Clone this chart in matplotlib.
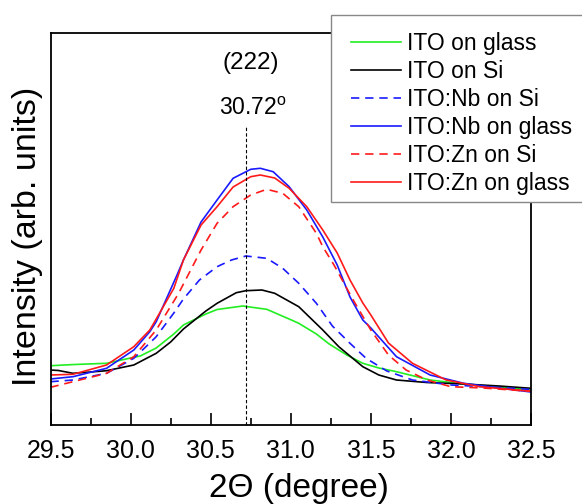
import matplotlib
matplotlib.use("Agg")
import matplotlib.pyplot as plt
from matplotlib.patches import Rectangle

plt.rcParams['font.family'] = ['Liberation Sans', 'DejaVu Sans']
plt.rcParams['mathtext.fontset'] = 'custom'
plt.rcParams['mathtext.rm'] = 'Liberation Sans'

# 2-theta (degree) and intensity (arb. units)
x_green = [29.50, 29.65, 29.85, 30.00, 30.06, 30.16, 30.27, 30.33, 30.47, 30.54, 30.70, 30.85, 31.00, 31.05, 31.16, 31.24, 31.35, 31.45, 31.55, 31.66, 31.87, 32.08, 32.30, 32.50]
y_green = [59.3, 60.5, 61.7, 67.0, 69.0, 77.0, 91.0, 100.0, 111.0, 115.5, 119.0, 115.7, 105.3, 101.7, 91.0, 81.0, 70.0, 61.7, 57.0, 53.3, 45.0, 41.0, 38.0, 35.0]

x_black = [29.50, 29.55, 29.64, 29.75, 29.85, 30.02, 30.16, 30.25, 30.33, 30.47, 30.54, 30.66, 30.72, 30.82, 30.90, 31.05, 31.20, 31.30, 31.45, 31.55, 31.66, 31.85, 32.08, 32.30, 32.50]
y_black = [55.0, 54.5, 51.7, 53.0, 54.3, 60.0, 71.7, 83.0, 96.0, 114.0, 121.7, 132.3, 134.3, 135.0, 131.7, 118.3, 95.0, 78.3, 58.3, 50.0, 45.0, 42.5, 41.0, 39.0, 36.7]

x_nb_si = [29.50, 29.64, 29.85, 30.02, 30.12, 30.16, 30.27, 30.33, 30.43, 30.54, 30.63, 30.72, 30.85, 30.95, 31.05, 31.16, 31.26, 31.37, 31.47, 31.60, 31.76, 32.00, 32.25, 32.50]
y_nb_si = [43.3, 45.0, 51.7, 66.7, 82.0, 88.3, 112.0, 126.0, 145.0, 158.3, 165.0, 169.0, 166.7, 156.7, 141.7, 121.7, 99.0, 81.7, 66.7, 54.0, 45.0, 40.0, 38.0, 35.5]

x_nb_glass = [29.50, 29.64, 29.85, 30.02, 30.12, 30.16, 30.29, 30.33, 30.44, 30.54, 30.64, 30.75, 30.81, 30.89, 30.99, 31.10, 31.20, 31.29, 31.37, 31.45, 31.50, 31.66, 31.87, 32.08, 32.30, 32.50]
y_nb_glass = [46.0, 48.3, 56.7, 75.0, 93.3, 103.3, 150.0, 165.0, 203.0, 225.0, 246.7, 255.7, 256.7, 253.3, 238.3, 215.0, 188.0, 160.0, 128.0, 105.0, 97.0, 68.3, 50.0, 41.7, 37.0, 33.0]

x_zn_si = [29.50, 29.64, 29.85, 30.02, 30.16, 30.30, 30.44, 30.54, 30.64, 30.75, 30.85, 30.95, 31.05, 31.16, 31.20, 31.27, 31.39, 31.50, 31.61, 31.72, 31.85, 32.00, 32.20, 32.50]
y_zn_si = [37.7, 43.3, 51.7, 68.3, 95.0, 131.7, 175.0, 201.7, 218.3, 230.0, 235.7, 231.7, 218.3, 191.7, 178.3, 160.0, 125.0, 95.0, 70.0, 55.0, 45.0, 38.3, 37.0, 33.7]

x_zn_glass = [29.50, 29.64, 29.85, 30.02, 30.12, 30.16, 30.27, 30.33, 30.44, 30.54, 30.64, 30.75, 30.81, 30.90, 30.99, 31.10, 31.20, 31.29, 31.37, 31.45, 31.50, 31.61, 31.76, 31.97, 32.18, 32.50]
y_zn_glass = [50.0, 50.7, 60.0, 78.3, 95.0, 106.0, 136.7, 165.0, 200.0, 218.3, 238.0, 248.3, 250.0, 247.0, 236.7, 218.3, 195.0, 172.0, 145.0, 122.0, 110.0, 82.0, 61.7, 45.0, 38.3, 33.7]

labels = ["ITO on glass", "ITO on Si", "ITO:Nb on Si", "ITO:Nb on glass", "ITO:Zn on Si", "ITO:Zn on glass"]
peak_pos = 30.72
peak_top = 298
x_ticks = [29.5, 30.0, 30.5, 31.0, 31.5, 32.0, 32.5]

fig = plt.figure(figsize=(5.82, 5.04), dpi=100)
ax = fig.add_axes([50.5/582, 1-425/504, (531-50.5)/582, (425-33)/504])

lw = 1.2
dash = (0, (5, 3.5))
ax.plot(x_green, y_green, color='#22ee22', lw=lw, label=labels[0])
ax.plot(x_black, y_black, color='black', lw=lw, label=labels[1])
ax.plot(x_nb_si, y_nb_si, color='#1a1aff', lw=lw, ls=dash, label=labels[2])
ax.plot(x_nb_glass, y_nb_glass, color='#1a1aff', lw=lw, label=labels[3])
ax.plot(x_zn_si, y_zn_si, color='#ff1a1a', lw=lw, ls=dash, label=labels[4])
ax.plot(x_zn_glass, y_zn_glass, color='#ff1a1a', lw=lw, label=labels[5])

ax.vlines(peak_pos, 0, peak_top, colors='black', linestyles=(0, (3, 2)), lw=0.8)
ax.text(peak_pos + 0.03, 362, "(222)", ha='center', va='center', fontsize=17.5)
ax.text(peak_pos + 0.04, 317, r"30.72$^\mathregular{o}$", ha='center', va='center', fontsize=16.5)

ax.set_xlim(29.5, 32.5)
ax.set_ylim(0, 392)
ax.set_xticks(x_ticks)
ax.set_xticklabels([f"{t:.1f}" for t in x_ticks])
ax.set_xticks([29.75, 30.25, 30.75, 31.25, 31.75, 32.25], minor=True)
ax.set_yticks([])
ax.tick_params(axis='x', which='major', direction='in', length=9, width=1.2, labelsize=18, pad=10)
ax.tick_params(axis='x', which='minor', direction='in', length=5, width=1.2)
for s in ax.spines.values():
    s.set_linewidth(1.3)

ax.set_xlabel("2\u0398 (degree)", fontsize=24)
ax.set_ylabel("Intensity (arb. units)", fontsize=24.5)
ax.xaxis.set_label_coords(0.518, -0.122)
ax.yaxis.set_label_coords(-0.016, 0.481)

# legend frame (box reaches beyond the right edge of the figure)
ax.add_patch(Rectangle((331/582, 1-202/504), 270/582, (202-15)/504, transform=fig.transFigure,
                       facecolor='white', edgecolor='#888888', lw=1.0, zorder=5, clip_on=False))
leg = ax.legend(loc='upper left', bbox_to_anchor=(351/582, 1-32/504), bbox_transform=fig.transFigure,
                borderaxespad=0, fontsize=16.5, frameon=False, handlelength=2.2,
                handletextpad=0.25, labelspacing=0.22, borderpad=0.0)
leg.set_zorder(6)

fig.savefig("out.png", dpi=100)
